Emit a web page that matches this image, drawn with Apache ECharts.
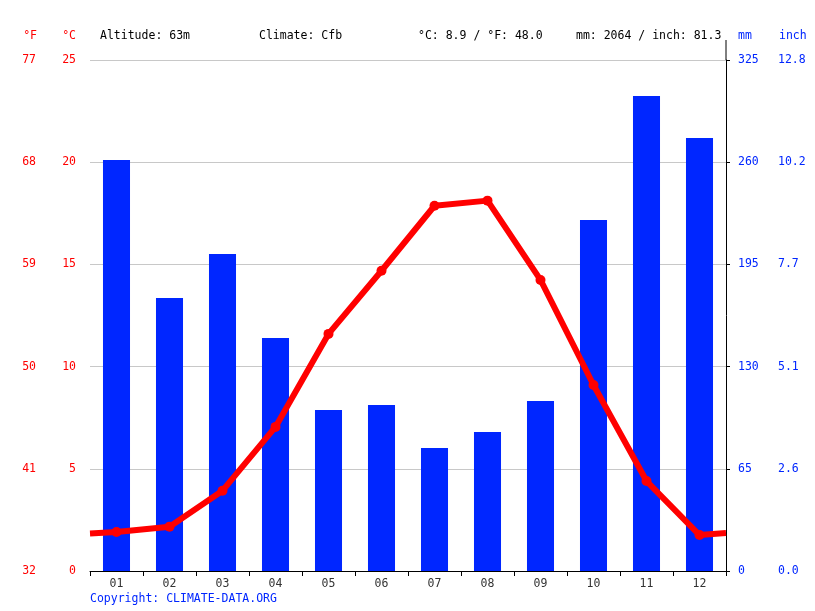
<!DOCTYPE html>
<html>
<head>
<meta charset="utf-8">
<script src="https://cdn.jsdelivr.net/npm/echarts@6/dist/echarts.min.js"></script>
<style>
  html, body { margin: 0; padding: 0; background: #fff; }
  #chart { width: 815px; height: 611px; }
</style>
</head>
<body>
<div id="chart"></div>
<script>
// climate chart data
const months = ['01', '02', '03', '04', '05', '06', '07', '08', '09', '10', '11', '12'];
const tempC = [1.91, 2.17, 3.93, 7.05, 11.6, 14.69, 17.87, 18.12, 14.24, 9.1, 4.4, 1.76];
const precipMm = [261.4, 173.6, 201.6, 148.2, 102.4, 105.6, 78.2, 88.4, 108.1, 223.2, 302.1, 275.4];
// line value at the left and right edge of the plot
const tempEdges = [1.84, 1.86];

const FONT = 'DejaVu Sans Mono';
const RED = '#ff0000';
const BLUE = '#0026ff';

// line points sit in the middle of each month band, edges at 0 and 12
const lineData = [{value: [0, tempEdges[0]], symbol: 'none'}]
  .concat(tempC.map((v, i) => [i + 0.5, v]))
  .concat([{value: [12, tempEdges[1]], symbol: 'none'}]);

const chart = echarts.init(document.getElementById('chart'), null, {renderer: 'canvas'});

const headText = (x, text, color, align) => ({
  type: 'text', x: x, y: 36,
  style: {text: text, fill: color, font: '11.5px ' + FONT, textAlign: align || 'left', textVerticalAlign: 'middle'}
});

// tick labels sit a hair below their grid line
const yLabel = (color, margin, formatter) => ({
  color: color, fontSize: 11.5, fontFamily: FONT, margin: margin,
  padding: [3, 0, 0, 0], formatter: formatter
});

chart.setOption({
  animation: false,
  textStyle: {fontFamily: FONT},
  grid: {left: 90, right: 89, top: 60, bottom: 40},
  xAxis: [
    {
      type: 'category', data: months, boundaryGap: true,
      axisLine: {lineStyle: {color: '#000', width: 1}},
      axisTick: {show: true, length: 5, lineStyle: {color: '#000'}},
      axisLabel: {color: '#333', fontSize: 11.5, fontFamily: FONT, margin: 7},
      splitLine: {show: false}
    },
    {type: 'value', min: 0, max: 12, show: false}
  ],
  yAxis: [
    { // °C
      type: 'value', position: 'left', min: 0, max: 25, interval: 5,
      axisLine: {show: false}, axisTick: {show: false},
      axisLabel: yLabel(RED, 14),
      splitLine: {show: true, lineStyle: {color: '#c8c8c8', width: 1}}
    },
    { // °F
      type: 'value', position: 'left', offset: 40, min: 0, max: 25, interval: 5,
      axisLine: {show: false}, axisTick: {show: false},
      axisLabel: yLabel(RED, 14, v => String(Math.round(v * 9 / 5 + 32))),
      splitLine: {show: false}
    },
    { // mm
      type: 'value', position: 'right', min: 0, max: 325, interval: 65,
      axisLine: {show: true, lineStyle: {color: '#000', width: 1}},
      axisTick: {show: true, length: 4, lineStyle: {color: '#000'}},
      axisLabel: yLabel(BLUE, 12),
      splitLine: {show: false}
    },
    { // inch
      type: 'value', position: 'right', offset: 40, min: 0, max: 325, interval: 65,
      axisLine: {show: false}, axisTick: {show: false},
      axisLabel: yLabel(BLUE, 12, v => (v / 25.4).toFixed(1)),
      splitLine: {show: false}
    }
  ],
  series: [
    {
      name: 'mm', type: 'bar', xAxisIndex: 0, yAxisIndex: 2,
      data: precipMm, barWidth: '51%',
      itemStyle: {color: BLUE}, z: 2
    },
    {
      name: '°C', type: 'line', xAxisIndex: 1, yAxisIndex: 0,
      data: lineData, symbol: 'circle', symbolSize: 10,
      lineStyle: {color: RED, width: 6}, itemStyle: {color: RED}, z: 3
    }
  ],
  graphic: [
    headText(37, '°F', RED, 'right'),
    headText(76, '°C', RED, 'right'),
    headText(100, 'Altitude: 63m', '#000'),
    headText(259, 'Climate: Cfb', '#000'),
    headText(418, '°C: 8.9 / °F: 48.0', '#000'),
    headText(576, 'mm: 2064 / inch: 81.3', '#000'),
    headText(738, 'mm', BLUE),
    headText(779, 'inch', BLUE),
    {type: 'line', shape: {x1: 726, y1: 40, x2: 726, y2: 60}, style: {stroke: '#000', lineWidth: 1}},
    {type: 'text', x: 90, y: 599,
      style: {text: 'Copyright: CLIMATE-DATA.ORG', fill: BLUE, font: '11.5px ' + FONT, textVerticalAlign: 'middle'}}
  ]
});
</script>
</body>
</html>
